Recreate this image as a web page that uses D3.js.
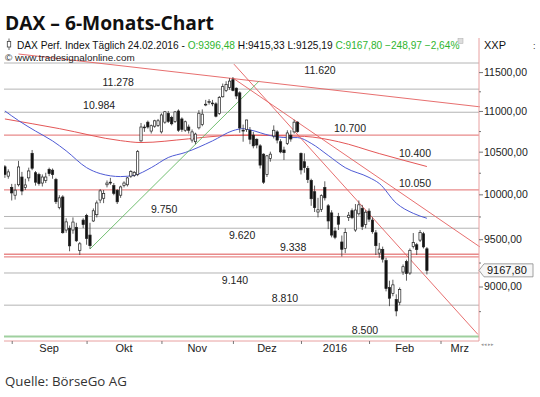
<!DOCTYPE html>
<html>
<head>
<meta charset="utf-8">
<script src="https://d3js.org/d3.v7.min.js"></script>
<style>
  body { margin: 0; background: #fff; }
  svg { display: block; }
</style>
</head>
<body>
<svg id="chart" width="540" height="397"></svg>
<script>
(function() {

  // ---- data (DAX daily candles, 28.08.2015 - 24.02.2016) ----
  var firstDay = '2015-08-28', lastDay = '2016-03-18';
  var holidays = ['2015-12-24', '2015-12-25', '2015-12-31', '2016-01-01'];

  var opens = [10320,10210,10080,9990,10110,10200,10080,10190,10480,10250,10230,10130,10160,10290,10280,10170,9850,9970,9600,9620,
    9600,9630,9380,9710,9760,9545,9700,9770,9935,9955,10110,10140,10100,10046,9990,10100,10110,10210,10220,10230,
    10630,10800,10860,10750,10810,10820,10740,10860,10970,10920,10870,11000,10900,10760,10800,10640,10620,10790,10830,11080,
    11110,11100,11090,10970,11180,11260,11300,11400,11290,11230,10760,10770,10760,10700,10650,10570,10470,10230,10420,10690,
    10740,10620,10520,10600,10700,10740,10860,10480,10380,10300,10160,10030,9800,9830,10080,9870,9790,9590,9750,9470,
    9400,9740,9815,9600,9780,9840,9660,9810,9710,9570,9350,9390,9270,8990,8930,8867,8840,9150,9260,9140,
    9420,9440,9490,9560,9396.48];
  var highs = [10340,10290,10120,10120,10390,10260,10180,10310,10520,10270,10250,10230,10250,10310,10300,10190,9990,9990,9730,9650,
    9740,9680,9470,9730,9780,9680,9840,9930,10060,10050,10160,10190,10130,10060,10100,10150,10200,10280,10270,10520,
    10850,10830,10880,10830,10890,10900,10970,11000,11000,10940,11000,11020,10920,10880,10830,10770,10730,11010,11020,11140,
    11150,11140,11110,11190,11350,11380,11420,11435,11300,11250,10830,10890,10800,10740,10660,10590,10480,10460,10500,10820,
    10760,10650,10560,10760,10760,10890,10870,10490,10480,10330,10180,10100,9960,10000,10150,9890,9820,9630,9790,9540,
    9620,9800,9840,9890,9930,9880,9820,9840,9740,9600,9460,9420,9300,9060,9070,8920,8990,9230,9280,9400,
    9567,9460,9600,9580,9415.33];
  var lows = [10190,10180,9930,9940,10090,9990,10050,10150,10280,10100,10100,10090,10130,10210,10180,9890,9830,9560,9570,9370,
    9560,9470,9330,9620,9440,9395,9690,9740,9900,9900,10080,10110,9990,9890,9960,10080,10090,10190,10200,10210,
    10620,10740,10780,10720,10790,10800,10720,10840,10850,10820,10850,10740,10740,10740,10720,10610,10590,10770,10810,11060,
    11080,11060,10920,10950,11170,11240,11270,11250,11150,10730,10620,10740,10590,10540,10540,10300,10120,10200,10380,10660,
    10600,10480,10400,10580,10620,10720,10730,10230,10250,10130,9870,9800,9740,9800,9930,9610,9520,9500,9600,9314,
    9350,9700,9720,9580,9760,9600,9620,9690,9560,9330,9300,9250,8950,8800,8900,8699,8810,9120,9060,9120,
    9400,9330,9470,9400,9125.19];
  var closes = [10230,10260,10016,10048,10318,10038,10108,10271,10303,10140,10123,10200,10200,10240,10229,9916,9960,9571,9690,9428,
    9688,9483,9450,9660,9509,9430,9814,9902,10040,10010,10130,10130,10010,9915,10085,10130,10190,10265,10255,10500,
    10800,10790,10800,10816,10877,10877,10950,10990,10870,10840,10988,10760,10770,10865,10760,10740,10713,10971,10960,11085,
    11119,11092,10934,11169,11310,11340,11382,11261,11190,10789,10752,10887,10650,10570,10580,10340,10140,10450,10470,10760,
    10640,10497,10488,10727,10653,10860,10743,10283,10310,10170,9950,9849,9825,9985,9960,9700,9545,9521,9664,9391,
    9574,9764,9736,9822,9881,9639,9798,9720,9582,9430,9393,9286,8979,8880,9017,8752,8968,9206,9135,9380,
    9463,9388,9574,9416.77,9167.80];

  // moving averages (trading-day index -> value)
  var blueMaIdx = [0,4,9,14,18,24,28,34,38,43,48,53,61,67,70,72,78,83,86,90,95,100,107,110,115,120,124];
  var blueMaVal = [11000,10880,10750,10630,10510,10310,10240,10205,10220,10310,10430,10490,10630,10755,10780,10765,10695,10670,10670,10600,10455,10310,10195,10125,9900,9785,9730];
  var redMaIdx = [0,16,34,40,54,63,72,78,88,98,110,124];
  var redMaVal = [10900,10780,10633,10610,10655,10690,10700,10695,10685,10620,10477,10323];

  // horizontal levels
  var grayLevels = [11620, 11278, 10984, 10400, 9750, 9620, 9140, 8810];
  var redLevels = [10700, 10050, 9338, 9310];
  var greenLevels = [8500];
  var labelLevels = [11620, 11278, 10984, 10700, 10400, 10050, 9750, 9620, 9338, 9140, 8810, 8500];

  // trend lines [dayIndex, value]
  var trendStart = [[4.0, 11740], [67.0, 11422], [67.3, 11605], [25.0, 9394]];
  var trendEnd = [[139.6, 11052], [139.6, 9416], [139.0, 8520], [74.7, 11382]];

  var yTicks = [9000, 9500, 10000, 10500, 11000, 11500];
  var yMinor = [8750, 9250, 9750, 10250, 10750, 11250];
  var monthNames = ['2016', 'Feb', 'Mrz', 'Apr', 'Mai', 'Jun', 'Jul', 'Aug', 'Sep', 'Okt', 'Nov', 'Dez'];

  // ---- layout ----
  var plot = {left: 4, right: 479, top: 62, bottom: 341};
  // where each level label sits: [dayIndex of centre, below line?]
  var labelAt = {11620: [92.6, 1], 11278: [33.3, 0], 10984: [27.7, 0], 10700: [101.4, 0], 10400: [120.5, 0],
    10050: [120.5, 0], 9750: [46.8, 0], 9620: [69.7, 1], 9338: [84.7, 0], 9140: [67.6, 1], 8810: [82.3, 0], 8500: [105.8, 0]};

  var de = d3.formatLocale({decimal: ',', thousands: '.', grouping: [3], currency: ['', ' €']});
  var fmtAxis = de.format('.2f'), fmtLevel = de.format(',');
  var parse = d3.timeParse('%Y-%m-%d'), iso = d3.timeFormat('%Y-%m-%d');

  var days = d3.timeDay.range(parse(firstDay), d3.timeDay.offset(parse(lastDay), 1))
    .filter(function(d) { return d.getDay() % 6 !== 0 && holidays.indexOf(iso(d)) < 0; });

  var candles = opens.map(function(o, i) {
    return {i: i, o: o, h: highs[i], l: lows[i], c: closes[i]};
  });

  var x = d3.scaleLinear().domain([0, 124]).range([4.9, 426.9]);
  var y = d3.scaleLog().domain([8500, 11620]).range([336.5, 63]);

  var svg = d3.select('#chart');
  var font = '"Liberation Sans", Arial, sans-serif';

  svg.append('defs').append('clipPath').attr('id', 'plotclip')
    .append('rect')
    .attr('x', plot.left).attr('y', plot.top - 1)
    .attr('width', plot.right - plot.left).attr('height', plot.bottom - plot.top + 1);

  // horizontal levels
  var levels = svg.append('g');
  levels.selectAll('line.gray').data(grayLevels).enter().append('line')
    .attr('class', 'gray')
    .attr('x1', plot.left).attr('x2', plot.right)
    .attr('y1', function(d) { return y(d); }).attr('y2', function(d) { return y(d); })
    .attr('stroke', '#b4b4b4').attr('stroke-width', 1);
  levels.selectAll('line.red').data(redLevels).enter().append('line')
    .attr('class', 'red')
    .attr('x1', plot.left).attr('x2', plot.right)
    .attr('y1', function(d) { return y(d); }).attr('y2', function(d) { return y(d); })
    .attr('stroke', '#e88a8a').attr('stroke-width', 1.3);
  levels.selectAll('line.green').data(greenLevels).enter().append('line')
    .attr('class', 'green')
    .attr('x1', plot.left).attr('x2', plot.right)
    .attr('y1', function(d) { return y(d); }).attr('y2', function(d) { return y(d); })
    .attr('stroke', '#9fd09f').attr('stroke-width', 2);

  levels.selectAll('text').data(labelLevels).enter().append('text')
    .attr('x', function(d) { return x(labelAt[d][0]); })
    .attr('y', function(d) { return y(d) + (labelAt[d][1] ? 11 : -3); })
    .attr('text-anchor', 'middle')
    .attr('font-family', font).attr('font-size', 10.5).attr('fill', '#222')
    .text(function(d) { return fmtLevel(d); });

  // moving averages
  var maG = svg.append('g').attr('clip-path', 'url(#plotclip)');
  var maLine = d3.line()
    .x(function(d) { return x(d[0]); })
    .y(function(d) { return y(d[1]); })
    .curve(d3.curveMonotoneX);
  maG.append('path')
    .attr('d', maLine(d3.zip(redMaIdx, redMaVal)))
    .attr('fill', 'none').attr('stroke', '#e45757').attr('stroke-width', 1);
  maG.append('path')
    .attr('d', maLine(d3.zip(blueMaIdx, blueMaVal)))
    .attr('fill', 'none').attr('stroke', '#4f5bd5').attr('stroke-width', 1);

  // trend lines
  svg.append('g').selectAll('line').data(d3.zip(trendStart, trendEnd)).enter().append('line')
    .attr('x1', function(d) { return x(d[0][0]); }).attr('y1', function(d) { return y(d[0][1]); })
    .attr('x2', function(d) { return x(d[1][0]); }).attr('y2', function(d) { return y(d[1][1]); })
    .attr('stroke', function(d, i) { return i === 3 ? '#62b862' : '#e45f5f'; })
    .attr('stroke-width', 0.9);

  // candles
  var cg = svg.append('g').attr('clip-path', 'url(#plotclip)');
  var bodyW = 2.3;
  var candle = cg.selectAll('g').data(candles).enter().append('g');
  candle.append('line')
    .attr('x1', function(d) { return x(d.i); }).attr('x2', function(d) { return x(d.i); })
    .attr('y1', function(d) { return y(d.h); }).attr('y2', function(d) { return y(d.l); })
    .attr('stroke', '#333').attr('stroke-width', 0.8);
  candle.append('rect')
    .attr('x', function(d) { return x(d.i) - bodyW / 2; })
    .attr('y', function(d) { return y(Math.max(d.o, d.c)); })
    .attr('width', bodyW)
    .attr('height', function(d) { return Math.max(0.8, Math.abs(y(d.o) - y(d.c))); })
    .attr('fill', function(d) { return d.c >= d.o ? '#fff' : '#111'; })
    .attr('stroke', '#222').attr('stroke-width', 0.7);

  // axes frame
  svg.append('line')
    .attr('x1', plot.right).attr('x2', plot.right).attr('y1', 38).attr('y2', plot.bottom)
    .attr('stroke', '#e8a0a0').attr('stroke-width', 1);
  svg.append('line')
    .attr('x1', plot.left).attr('x2', plot.right).attr('y1', plot.bottom).attr('y2', plot.bottom)
    .attr('stroke', '#e8a0a0').attr('stroke-width', 1);

  var yAxisG = svg.append('g').attr('transform', 'translate(' + plot.right + ',0)')
    .call(d3.axisRight(y).tickValues(yTicks).tickSize(4).tickPadding(1).tickFormat(fmtAxis));
  yAxisG.select('.domain').remove();
  yAxisG.selectAll('line').attr('stroke', '#777');
  yAxisG.selectAll('text').attr('font-family', font).attr('font-size', 10.5).attr('fill', '#222');

  var yMinorG = svg.append('g').attr('transform', 'translate(' + plot.right + ',0)')
    .call(d3.axisRight(y).tickValues(yMinor).tickSize(2).tickFormat(''));
  yMinorG.select('.domain').remove();
  yMinorG.selectAll('line').attr('stroke', '#777');

  // month ticks and labels
  var monthStarts = [];
  days.forEach(function(d, i) {
    if (i > 0 && d.getMonth() !== days[i - 1].getMonth() && x(i) <= plot.right) monthStarts.push(i);
  });
  var xAxisG = svg.append('g').attr('transform', 'translate(0,' + plot.bottom + ')')
    .call(d3.axisBottom(x).tickValues(monthStarts).tickSize(3).tickFormat(''));
  xAxisG.select('.domain').remove();
  xAxisG.selectAll('line').attr('stroke', '#777');

  svg.append('g').selectAll('text').data(monthStarts).enter().append('text')
    .attr('x', function(s, k) {
      var e = k + 1 < monthStarts.length ? x(monthStarts[k + 1]) : plot.right;
      return (x(s) + e) / 2;
    })
    .attr('y', 352)
    .attr('text-anchor', 'middle')
    .attr('font-family', font).attr('font-size', 11).attr('fill', '#222')
    .text(function(s) { return monthNames[days[s].getMonth()]; });

  // last price marker
  var last = candles[candles.length - 1], prev = candles[candles.length - 2];
  var py = y(last.c);
  svg.append('path')
    .attr('d', 'M' + plot.right + ',' + py + 'L' + (plot.right + 5) + ',' + (py - 6.5) +
      'H533V' + (py + 6.5) + 'H' + (plot.right + 5) + 'Z')
    .attr('fill', '#f6f6f6').attr('stroke', '#8a8a8a').attr('stroke-width', 0.8);
  svg.append('text')
    .attr('x', 487).attr('y', py + 4)
    .attr('font-family', font).attr('font-size', 11).attr('fill', '#111')
    .text(fmtAxis(last.c));

  // header
  function fit(sel, w) {
    var len = sel.node().getComputedTextLength();
    sel.attr('font-size', parseFloat(sel.attr('font-size')) * w / len);
  }

  var title = svg.append('text')
    .attr('x', 5).attr('y', 30)
    .attr('font-family', '"Open Sans", sans-serif').attr('font-weight', 700)
    .attr('font-size', 20).attr('fill', '#111')
    .text('DAX \u2013 6-Monats-Chart');
  fit(title, 209);

  svg.append('line').attr('x1', 9).attr('x2', 9).attr('y1', 38.5).attr('y2', 50)
    .attr('stroke', '#444').attr('stroke-width', 0.8);
  svg.append('rect').attr('x', 7.3).attr('y', 41.5).attr('width', 3.4).attr('height', 5.5)
    .attr('fill', '#fff').attr('stroke', '#444').attr('stroke-width', 0.8);

  var chg = last.c - prev.c;
  var green = '#2fb52f';
  var info = svg.append('text')
    .attr('x', 17).attr('y', 49)
    .attr('font-family', font).attr('font-size', 11).attr('fill', '#111');
  info.append('tspan').text('DAX Perf. Index T\u00e4glich  ' + d3.timeFormat('%d.%m.%Y')(days[last.i]) + ' - ');
  info.append('tspan').attr('fill', green).text('O:' + fmtAxis(last.o));
  info.append('tspan').text(' H:' + fmtAxis(last.h) + ' L:' + fmtAxis(last.l) + ' ');
  info.append('tspan').attr('fill', green)
    .text('C:' + fmtAxis(last.c) + ' ' + fmtAxis(chg) + ' ' + fmtAxis(chg / prev.c * 100) + '%');
  fit(info, 443);

  var www = svg.append('text')
    .attr('x', 5).attr('y', 61)
    .attr('font-family', font).attr('font-size', 10).attr('fill', '#222')
    .text('\u00a9 www.tradesignalonline.com');
  fit(www, 130);

  svg.append('rect').attr('x', 458).attr('y', 38.5).attr('width', 5).attr('height', 5)
    .attr('fill', '#ddd').attr('stroke', '#aaa').attr('stroke-width', 0.5);
  svg.append('text')
    .attr('x', 484).attr('y', 49)
    .attr('font-family', font).attr('font-size', 11).attr('fill', '#111')
    .text('XXP');
  svg.append('text')
    .attr('x', 533).attr('y', 49)
    .attr('font-family', font).attr('font-size', 9).attr('fill', '#333')
    .text(':');
  svg.append('text')
    .attr('x', 481).attr('y', 346)
    .attr('font-family', font).attr('font-size', 5).attr('fill', '#999')
    .text('\u25c2\u25c2 \u25b8\u25b8');

  var src = svg.append('text')
    .attr('x', 5).attr('y', 386)
    .attr('font-family', '"Open Sans", sans-serif')
    .attr('font-size', 14).attr('fill', '#333')
    .text('Quelle: B\u00f6rseGo AG');
  fit(src, 122);

})();
</script>
</body>
</html>
